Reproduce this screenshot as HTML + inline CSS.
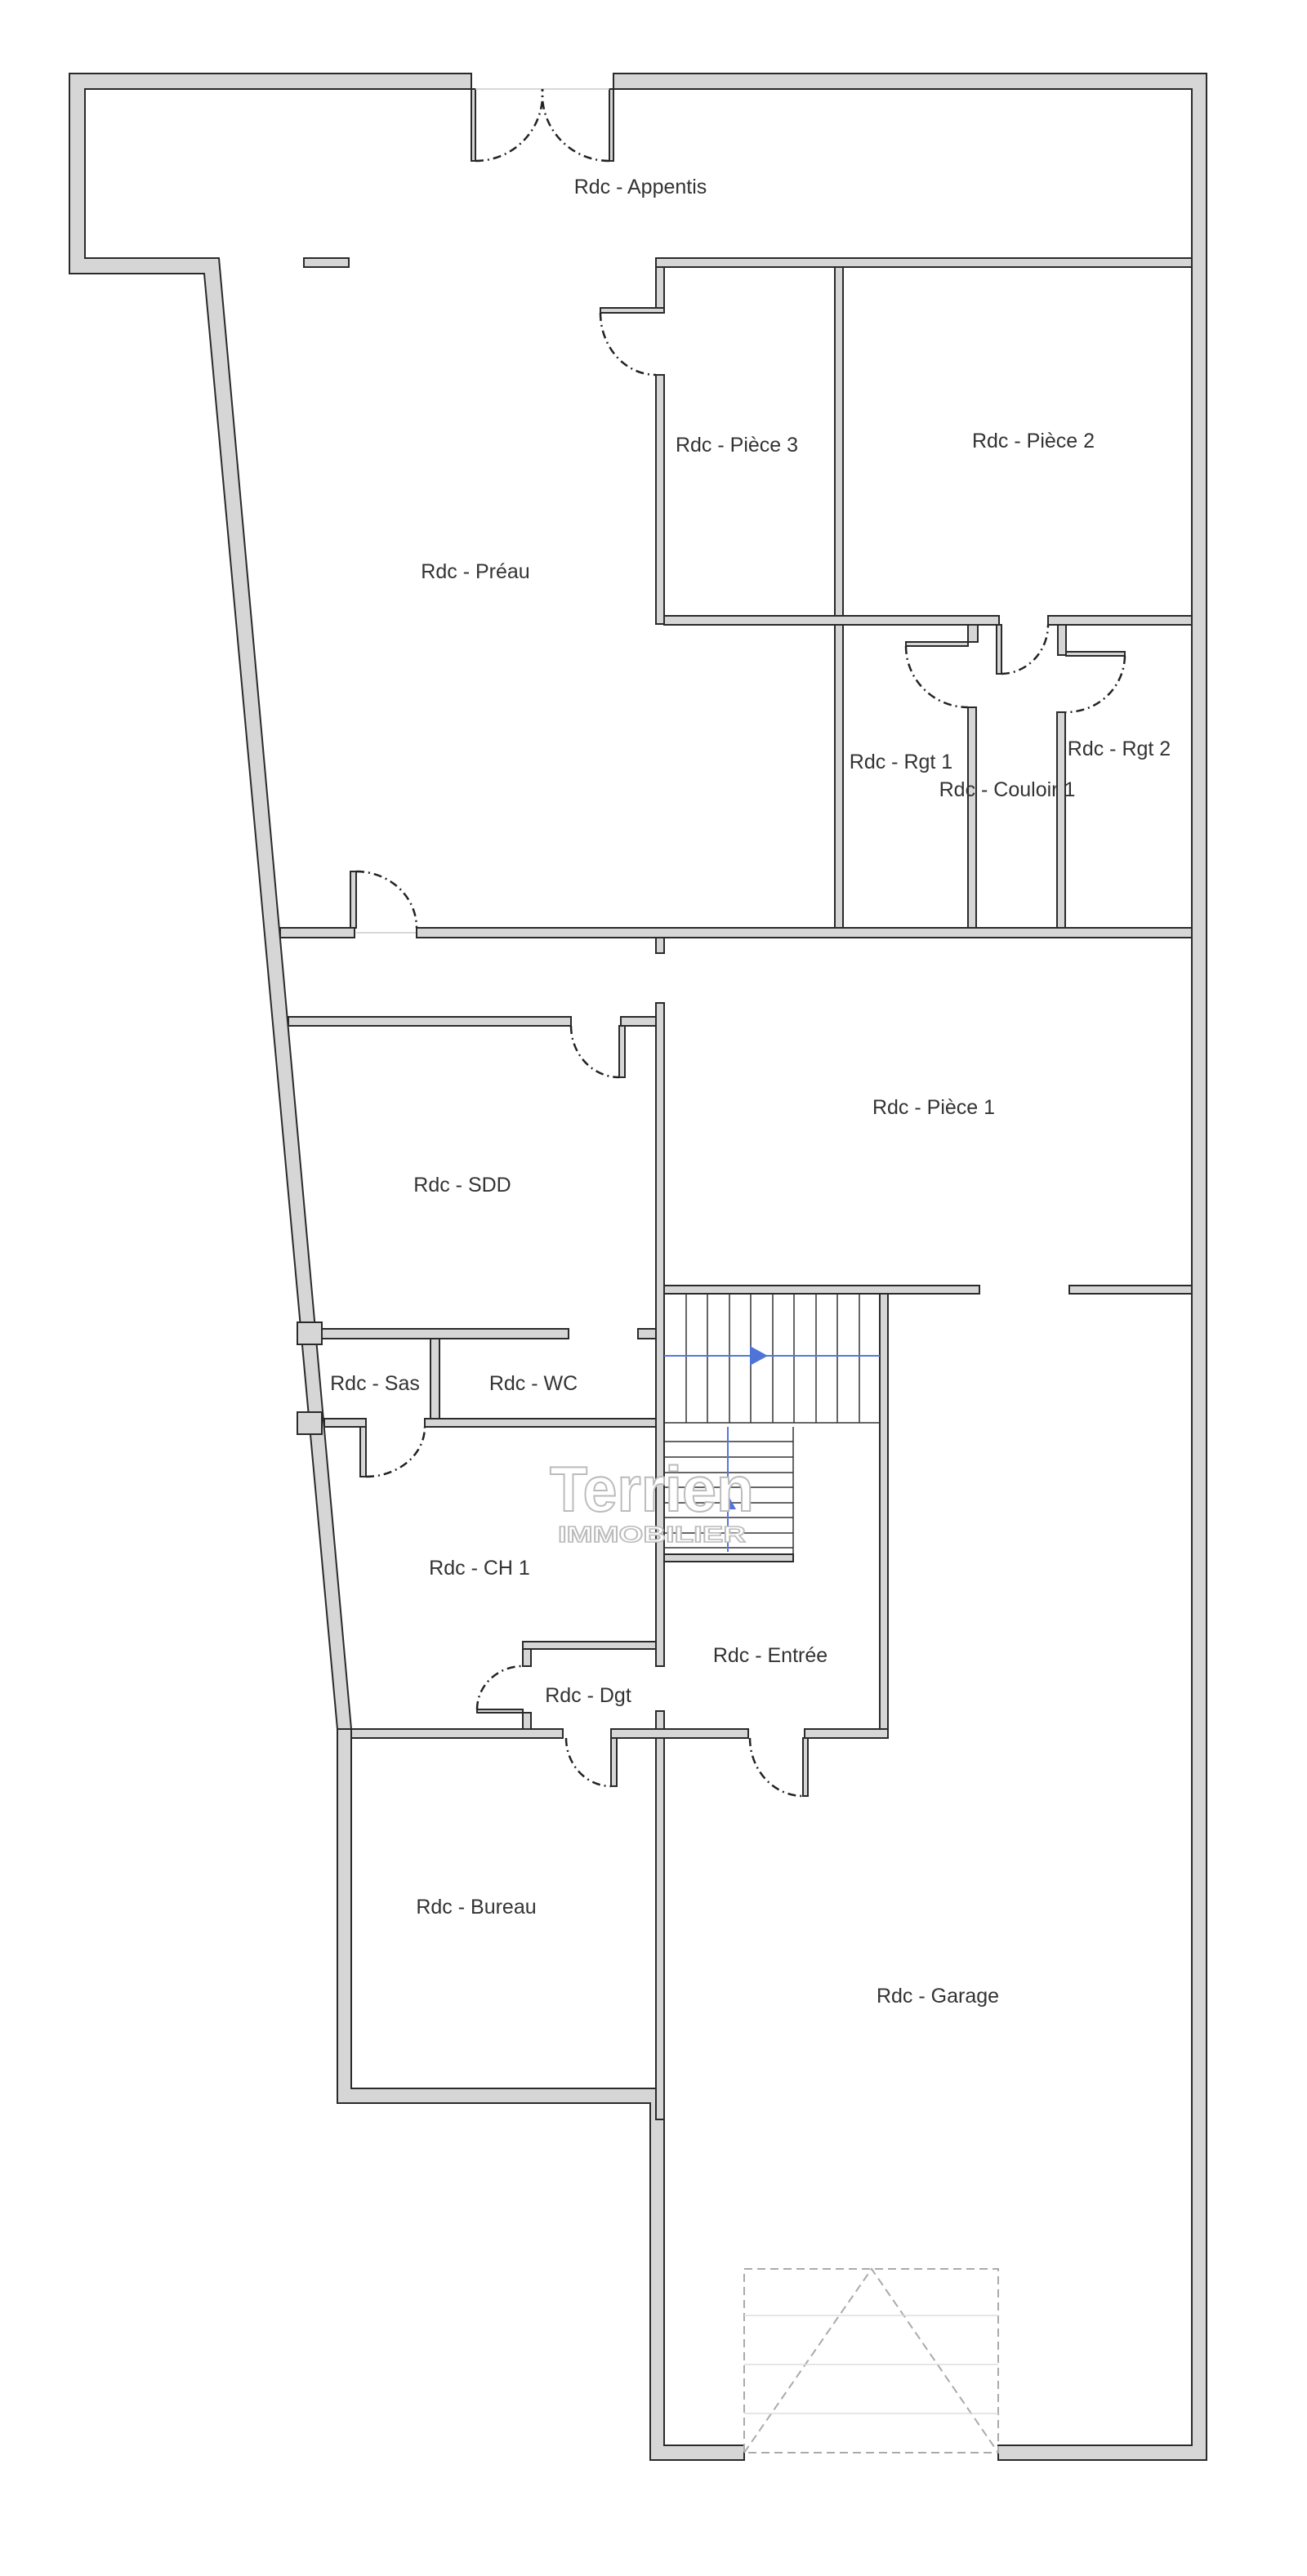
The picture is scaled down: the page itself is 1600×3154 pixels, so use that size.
<!DOCTYPE html>
<html><head><meta charset="utf-8"><style>
html,body{margin:0;padding:0;background:#fff;}
svg{display:block;}
.w{fill:#d6d6d6;stroke:#2a2a2a;stroke-width:2;stroke-linejoin:miter;}
.d{fill:none;stroke:#222;stroke-width:2.5;stroke-dasharray:10 5 2 5;}
.t{font-family:"Liberation Sans",sans-serif;font-size:25px;fill:#333;text-anchor:middle;}
.tr{stroke:#333;stroke-width:1.5;}
.th{fill:none;stroke:#ddd;stroke-width:1.5;}
</style></head><body>
<svg width="1600" height="3154" viewBox="0 0 1600 3154" xmlns="http://www.w3.org/2000/svg">
<polygon class="w" points="85,90 577,90 577,109 104,109 104,316 268,316 430,2117 413,2117 250,335 85,335"/>
<polygon class="w" points="751,90 1477,90 1477,3012 1222,3012 1222,2994 1459,2994 1459,109 751,109"/>
<rect class="w" x="577" y="109" width="5" height="88"/>
<rect class="w" x="746" y="109" width="5" height="88"/>
<line x1="582" y1="109" x2="746" y2="109" stroke="#ccc" stroke-width="1.5"/>
<path class="d" d="M582,197 A82,82 0 0 0 664,109"/>
<path class="d" d="M746,197 A82,82 0 0 1 664,109"/>
<rect class="w" x="372" y="316" width="55" height="11"/>
<rect class="w" x="803" y="316" width="656" height="11"/>
<rect class="w" x="803" y="327" width="10" height="50"/>
<rect class="w" x="735" y="377" width="78" height="6"/>
<path class="d" d="M735,383 A68,76 0 0 0 803,459"/>
<rect class="w" x="803" y="459" width="10" height="305"/>
<rect class="w" x="1022" y="327" width="10" height="809"/>
<rect class="w" x="813" y="754" width="410" height="11"/>
<rect class="w" x="1283" y="754" width="176" height="11"/>
<rect class="w" x="1185" y="765" width="12" height="21"/>
<rect class="w" x="1109" y="786" width="76" height="5"/>
<path class="d" d="M1109,791 A76,75 0 0 0 1185,866"/>
<rect class="w" x="1185" y="866" width="10" height="270"/>
<rect class="w" x="1220" y="765" width="6" height="60"/>
<path class="d" d="M1226,825 A58,60 0 0 0 1283,765"/>
<rect class="w" x="1295" y="765" width="10" height="37"/>
<rect class="w" x="1305" y="798" width="72" height="5"/>
<path class="d" d="M1377,803 A72,70 0 0 1 1305,872"/>
<rect class="w" x="1294" y="872" width="10" height="264"/>
<rect class="w" x="343" y="1136" width="91" height="12"/>
<rect class="w" x="429" y="1067" width="7" height="69"/>
<path class="d" d="M436,1067 A74,69 0 0 1 510,1136"/>
<line x1="436" y1="1142" x2="510" y2="1142" stroke="#ccc" stroke-width="1.5"/>
<rect class="w" x="510" y="1136" width="949" height="12"/>
<rect class="w" x="803" y="1148" width="10" height="19"/>
<rect class="w" x="803" y="1228" width="10" height="812"/>
<rect class="w" x="803" y="2095" width="10" height="500"/>
<rect class="w" x="353" y="1245" width="346" height="11"/>
<rect class="w" x="760" y="1245" width="43" height="11"/>
<rect class="w" x="758" y="1256" width="7" height="63"/>
<path class="d" d="M699,1256 A59,63 0 0 0 758,1319"/>
<rect class="w" x="387" y="1627" width="309" height="12"/>
<rect class="w" x="781" y="1627" width="22" height="12"/>
<rect class="w" x="364" y="1619" width="30" height="27"/>
<rect class="w" x="364" y="1729" width="30" height="27"/>
<rect class="w" x="527" y="1639" width="11" height="98"/>
<rect class="w" x="520" y="1737" width="283" height="10"/>
<rect class="w" x="397" y="1737" width="51" height="10"/>
<rect class="w" x="441" y="1747" width="7" height="61"/>
<path class="d" d="M448,1808 A72,61 0 0 0 520,1747"/>
<rect class="w" x="813" y="1574" width="386" height="10"/>
<rect class="w" x="1309" y="1574" width="150" height="10"/>
<rect class="w" x="1077" y="1584" width="10" height="544"/>
<g class="tr">
<line x1="840" y1="1584" x2="840" y2="1742"/><line x1="866" y1="1584" x2="866" y2="1742"/>
<line x1="893" y1="1584" x2="893" y2="1742"/><line x1="919" y1="1584" x2="919" y2="1742"/>
<line x1="946" y1="1584" x2="946" y2="1742"/><line x1="972" y1="1584" x2="972" y2="1742"/>
<line x1="999" y1="1584" x2="999" y2="1742"/><line x1="1025" y1="1584" x2="1025" y2="1742"/>
<line x1="1052" y1="1584" x2="1052" y2="1742"/>
<line x1="813" y1="1742" x2="1077" y2="1742"/>
<line x1="971" y1="1747" x2="971" y2="1903"/>
<line x1="813" y1="1765" x2="971" y2="1765"/><line x1="813" y1="1784" x2="971" y2="1784"/>
<line x1="813" y1="1803" x2="971" y2="1803"/><line x1="813" y1="1821" x2="971" y2="1821"/>
<line x1="813" y1="1840" x2="971" y2="1840"/><line x1="813" y1="1858" x2="971" y2="1858"/>
<line x1="813" y1="1877" x2="971" y2="1877"/><line x1="813" y1="1895" x2="971" y2="1895"/>
</g>
<rect class="w" x="813" y="1903" width="158" height="9"/>
<line x1="813" y1="1660" x2="1077" y2="1660" stroke="#5577dd" stroke-width="2"/>
<polygon points="918,1648 940,1660 918,1672" fill="#4f74d8"/>
<line x1="891" y1="1747" x2="891" y2="1900" stroke="#5577dd" stroke-width="2"/>
<polygon points="881,1848 891,1830 901,1848" fill="#4f74d8"/>
<text x="798" y="1850" font-family="Liberation Sans,sans-serif" font-size="78" fill="#fff" stroke="#bbb" stroke-width="2" text-anchor="middle" font-weight="bold" textLength="250" lengthAdjust="spacingAndGlyphs">Terrien</text>
<text x="798" y="1888" font-family="Liberation Sans,sans-serif" font-size="28" fill="#fff" stroke="#bbb" stroke-width="1.5" text-anchor="middle" font-weight="bold" textLength="230" lengthAdjust="spacingAndGlyphs">IMMOBILIER</text>
<rect class="w" x="640" y="2010" width="163" height="9"/>
<rect class="w" x="640" y="2019" width="10" height="21"/>
<rect class="w" x="584" y="2093" width="56" height="4"/>
<path class="d" d="M584,2093 A56,53 0 0 1 640,2040"/>
<rect class="w" x="640" y="2097" width="10" height="20"/>
<rect class="w" x="430" y="2117" width="259" height="11"/>
<rect class="w" x="748" y="2117" width="168" height="11"/>
<rect class="w" x="985" y="2117" width="102" height="11"/>
<rect class="w" x="748" y="2128" width="7" height="59"/>
<path class="d" d="M693,2128 A55,59 0 0 0 748,2187"/>
<rect class="w" x="983" y="2128" width="6" height="71"/>
<path class="d" d="M918,2128 A65,71 0 0 0 983,2199"/>
<polygon class="w" points="413,2117 430,2117 430,2557 803,2557 803,2595 813,2595 813,2994 911,2994 911,3012 796,3012 796,2575 413,2575"/>
<rect x="911" y="2778" width="311" height="225" fill="none" stroke="#aaa" stroke-width="2" stroke-dasharray="10 6"/>
<polyline points="911,3003 1067,2778 1222,3003" fill="none" stroke="#aaa" stroke-width="2" stroke-dasharray="10 6"/>
<line class="th" x1="911" y1="2835" x2="1222" y2="2835"/>
<line class="th" x1="911" y1="2895" x2="1222" y2="2895"/>
<line class="th" x1="911" y1="2955" x2="1222" y2="2955"/>
<text class="t" x="784" y="237">Rdc - Appentis</text>
<text class="t" x="582" y="708">Rdc - Préau</text>
<text class="t" x="902" y="553">Rdc - Pièce 3</text>
<text class="t" x="1265" y="548">Rdc - Pièce 2</text>
<text class="t" x="1103" y="941">Rdc - Rgt 1</text>
<text class="t" x="1233" y="975">Rdc - Couloir 1</text>
<text class="t" x="1370" y="925">Rdc - Rgt 2</text>
<text class="t" x="1143" y="1364">Rdc - Pièce 1</text>
<text class="t" x="566" y="1459">Rdc - SDD</text>
<text class="t" x="459" y="1702">Rdc - Sas</text>
<text class="t" x="653" y="1702">Rdc - WC</text>
<text class="t" x="587" y="1928">Rdc - CH 1</text>
<text class="t" x="943" y="2035">Rdc - Entrée</text>
<text class="t" x="720" y="2084">Rdc - Dgt</text>
<text class="t" x="583" y="2343">Rdc - Bureau</text>
<text class="t" x="1148" y="2452">Rdc - Garage</text>
</svg>
</body></html>
